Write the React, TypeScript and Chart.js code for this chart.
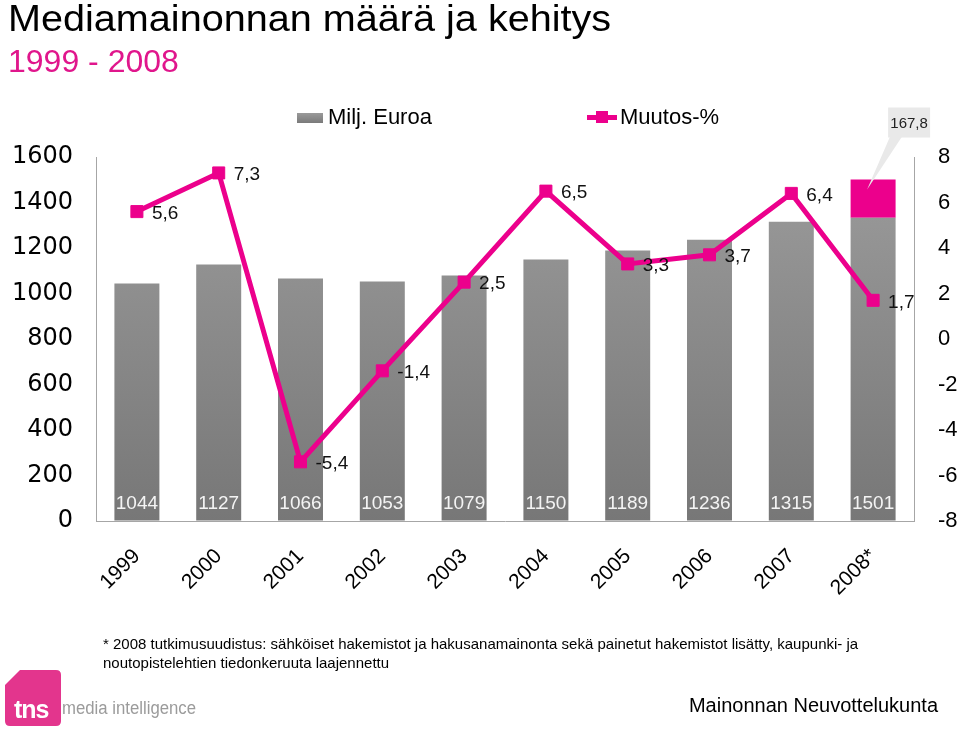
import React, { useEffect, useRef } from "react";
import { Chart, registerables } from "chart.js";

Chart.register(...registerables);

// ---- data ----
const years = ["1999", "2000", "2001", "2002", "2003", "2004", "2005", "2006", "2007", "2008*"];
const totalsMEUR = [1044, 1127, 1066, 1053, 1079, 1150, 1189, 1236, 1315, 1501];
const added2008 = [null, null, null, null, null, null, null, null, null, 167.8];
const changePct = [5.6, 7.3, -5.4, -1.4, 2.5, 6.5, 3.3, 3.7, 6.4, 1.7];
const leftAxis = { min: 0, max: 1600, step: 200 };
const rightAxis = { min: -8, max: 8, step: 2 };

const baseMEUR = totalsMEUR.map((t, i) => t - ((added2008[i] as number | null) ?? 0));

const FONT = "'Liberation Sans', Arial, Helvetica, sans-serif";
const WIDE = "'DejaVu Sans', 'Liberation Sans', Arial, sans-serif";
const PINK = "#ec008c";
const AXIS = "#a6a6a6";

const fmt = (v: number) => v.toFixed(1).replace(".", ",");

const labelPlugin = {
  id: "labelPlugin",
  afterDatasetsDraw(chart: any) {
    const ctx = chart.ctx;
    const yScale = chart.scales.y;
    const zeroY = yScale.getPixelForValue(0);
    ctx.save();
    // bar totals
    const barMeta = chart.getDatasetMeta(1);
    ctx.font = `19px ${FONT}`;
    ctx.fillStyle = "#f4f4f4";
    ctx.textAlign = "center";
    ctx.textBaseline = "middle";
    barMeta.data.forEach((el: any, i: number) => {
      ctx.fillText(String(totalsMEUR[i]), el.x, zeroY - 17);
    });
    // line labels
    const lineMeta = chart.getDatasetMeta(0);
    ctx.font = `19px ${FONT}`;
    ctx.fillStyle = "#111";
    ctx.textAlign = "left";
    lineMeta.data.forEach((el: any, i: number) => {
      ctx.fillText(fmt(changePct[i]), el.x + 15, el.y + 2);
    });
    // callout for 2008 addition
    const addMeta = chart.getDatasetMeta(2);
    addMeta.data.forEach((el: any, i: number) => {
      const v = added2008[i];
      if (v == null) return;
      const bx = el.x;
      const by = el.y;
      const left = bx + 15;
      const top = by - 72;
      const w = 42;
      const h = 30;
      ctx.fillStyle = "#e9e9e9";
      ctx.beginPath();
      ctx.moveTo(left + 2, top + h - 1);
      ctx.lineTo(left + 14, top + h - 1);
      ctx.lineTo(bx - 6, by + 10);
      ctx.closePath();
      ctx.fill();
      ctx.fillRect(left, top, w, h);
      ctx.fillStyle = "#222";
      ctx.font = `15px ${FONT}`;
      ctx.textAlign = "center";
      ctx.textBaseline = "middle";
      ctx.fillText(fmt(v as number), left + w / 2, top + h / 2 + 1);
    });
    ctx.restore();
  },
};

export default function App() {
  const ref = useRef<HTMLCanvasElement>(null);

  useEffect(() => {
    const canvas = ref.current;
    if (!canvas) return;
    const grayGrad = (c: any) => {
      const chart = c.chart;
      const area = chart.chartArea;
      if (!area) return "#8a8a8a";
      const g = chart.ctx.createLinearGradient(0, area.top, 0, area.bottom);
      g.addColorStop(0, "#9c9c9c");
      g.addColorStop(1, "#777777");
      return g;
    };
    const chart = new Chart(canvas, {
      type: "bar",
      data: {
        labels: years,
        datasets: [
          {
            type: "line",
            label: "Muutos-%",
            data: changePct,
            yAxisID: "y1",
            order: 0,
            borderColor: PINK,
            backgroundColor: PINK,
            borderWidth: 5,
            pointStyle: "rect",
            pointRadius: 8.5,
            pointBorderWidth: 1,
            pointBackgroundColor: PINK,
            pointBorderColor: PINK,
            tension: 0,
          } as any,
          {
            type: "bar",
            label: "Milj. Euroa",
            data: baseMEUR,
            yAxisID: "y",
            order: 1,
            backgroundColor: grayGrad,
            borderWidth: 0,
            barPercentage: 0.55,
            categoryPercentage: 1,
            stack: "s",
          },
          {
            type: "bar",
            label: "2008 lisäys",
            data: added2008 as any,
            yAxisID: "y",
            order: 1,
            backgroundColor: PINK,
            borderWidth: 0,
            barPercentage: 0.55,
            categoryPercentage: 1,
            stack: "s",
          },
        ],
      },
      options: {
        responsive: false,
        animation: false,
        devicePixelRatio: 1,
        layout: { padding: { top: 157, left: 0, right: 0, bottom: 0 } },
        plugins: {
          legend: { display: false },
          tooltip: { enabled: false },
        },
        scales: {
          x: {
            stacked: true,
            grid: { drawOnChartArea: false, drawTicks: false },
            border: { display: true, color: AXIS, width: 1 },
            ticks: {
              font: { family: FONT, size: 21 },
              color: "#000",
              minRotation: 45,
              maxRotation: 45,
              autoSkip: false,
              padding: 23,
            },
            afterFit: (s: any) => {
              s.height = 209;
            },
          },
          y: {
            position: "left",
            stacked: true,
            min: leftAxis.min,
            max: leftAxis.max,
            grid: { drawOnChartArea: false, drawTicks: false },
            border: { display: true, color: AXIS, width: 1 },
            ticks: {
              stepSize: leftAxis.step,
              font: { family: WIDE, size: 24 },
              color: "#000",
              padding: 23,
              callback: (v: any) => String(v),
            },
            afterFit: (s: any) => {
              s.width = 96;
            },
          },
          y1: {
            position: "right",
            min: rightAxis.min,
            max: rightAxis.max,
            grid: { drawOnChartArea: false, drawTicks: false },
            border: { display: true, color: AXIS, width: 1 },
            ticks: {
              stepSize: rightAxis.step,
              font: { family: FONT, size: 22 },
              color: "#000",
              padding: 24,
              callback: (v: any) => String(v),
            },
            afterFit: (s: any) => {
              s.width = 46;
            },
          },
        },
      },
      plugins: [labelPlugin],
    } as any);
    return () => chart.destroy();
  }, []);

  const abs = (o: React.CSSProperties): React.CSSProperties => ({
    position: "absolute",
    margin: 0,
    whiteSpace: "nowrap",
    lineHeight: 1,
    ...o,
  });

  return (
    <div
      style={{
        position: "absolute",
        left: 0,
        top: 0,
        width: 960,
        height: 730,
        background: "#fff",
        fontFamily: FONT,
        overflow: "hidden",
      }}
    >
      <canvas
        ref={ref}
        width={960}
        height={730}
        style={{ position: "absolute", left: 0, top: 0, width: 960, height: 730 }}
      />
      <div
        style={abs({
          left: 8,
          top: 1,
          fontSize: 36,
          color: "#000",
          transform: "scaleX(1.1)",
          transformOrigin: "left top",
        })}
      >
        Mediamainonnan määrä ja kehitys
      </div>
      <div style={abs({ left: 8, top: 45, fontSize: 32, color: "#e0168c" })}>1999 - 2008</div>

      {/* legend */}
      <div
        style={abs({
          left: 297,
          top: 113,
          width: 26,
          height: 10,
          background: "linear-gradient(#9a9a9a, #7a7a7a)",
        })}
      />
      <div style={abs({ left: 328, top: 106, fontSize: 22, color: "#000" })}>Milj. Euroa</div>
      <div style={abs({ left: 587, top: 115, width: 30, height: 5, background: PINK })} />
      <div style={abs({ left: 596, top: 111, width: 12, height: 12, background: PINK })} />
      <div style={abs({ left: 620, top: 106, fontSize: 22, color: "#000" })}>Muutos-%</div>

      {/* footnote */}
      <div style={{ position: "absolute", left: 103, top: 634, fontSize: 15, lineHeight: "19px", color: "#000", width: 820 }}>
        * 2008 tutkimusuudistus: sähköiset hakemistot ja hakusanamainonta sekä painetut hakemistot lisätty, kaupunki- ja
        <br />
        noutopistelehtien tiedonkeruuta laajennettu
      </div>

      {/* logo */}
      <svg style={{ position: "absolute", left: 5, top: 670 }} width={56} height={56} viewBox="0 0 56 56">
        <path d="M15 0 H51 Q56 0 56 5 V51 Q56 56 51 56 H5 Q0 56 0 51 V15 Z" fill="#e3358d" />
      </svg>
      <div
        style={abs({
          left: 14,
          top: 697,
          fontSize: 25,
          fontWeight: "bold",
          color: "#fff",
          letterSpacing: -1,
        })}
      >
        tns
      </div>
      <div
        style={abs({
          left: 62,
          top: 699,
          fontSize: 18,
          color: "#9b9b9b",
          transform: "scaleX(0.93)",
          transformOrigin: "left top",
        })}
      >
        media intelligence
      </div>
      <div style={abs({ right: 22, top: 695, fontSize: 20, color: "#000" })}>Mainonnan Neuvottelukunta</div>
    </div>
  );
}
